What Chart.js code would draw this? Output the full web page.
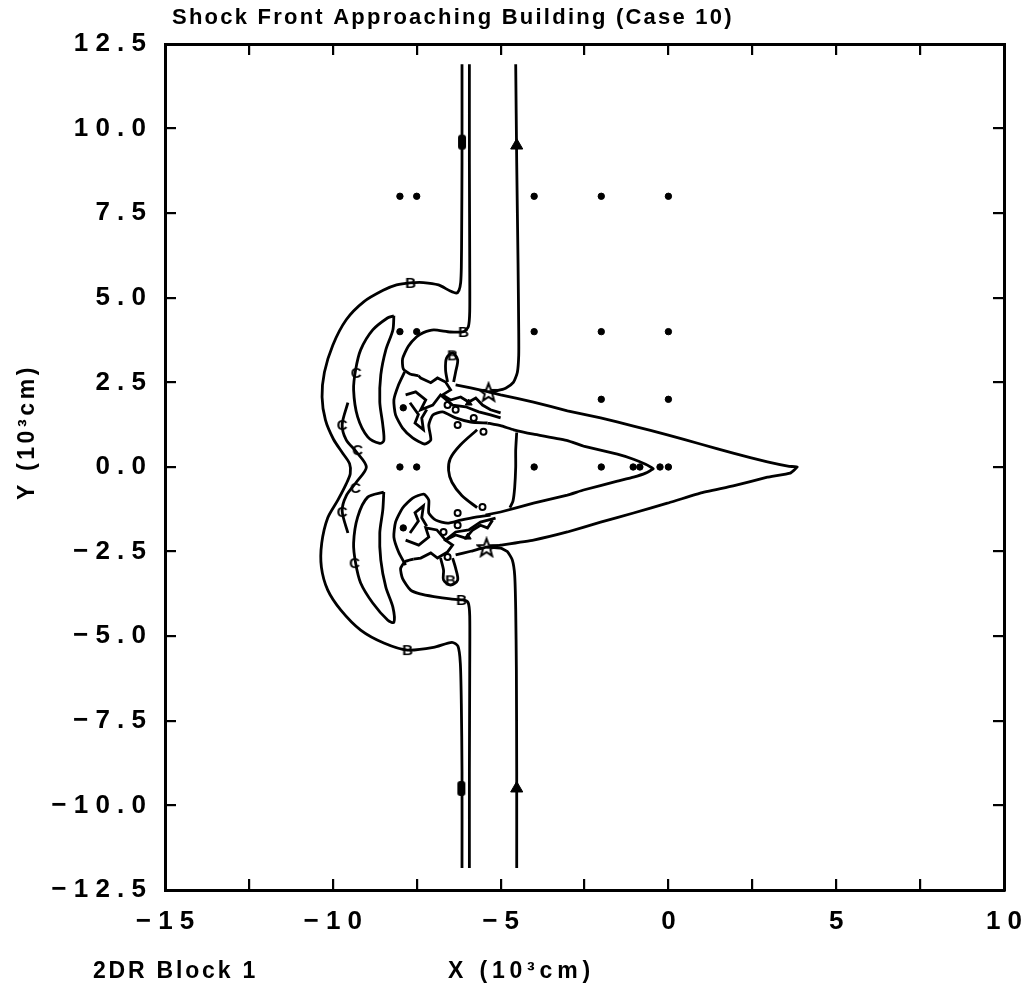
<!DOCTYPE html>
<html>
<head>
<meta charset="utf-8">
<script src="https://cdn.jsdelivr.net/npm/chart.js@4.4.1/dist/chart.umd.min.js"></script>
<style>
  html, body { margin: 0; padding: 0; background: #fff; }
  #c { display: block; }
</style>
</head>
<body>
<canvas id="c" width="1033" height="996"></canvas>
<script>
// Shock front contours, 2DR block 1 (case 10)

const xTickValues = [-15, -10, -5, 0, 5, 10];
const xTickText   = ["− 1 5", "− 1 0", "− 5", "0", "5", "1 0"];
const yTickValues = [12.5, 10, 7.5, 5, 2.5, 0, -2.5, -5, -7.5, -10, -12.5];
const yTickText   = ["1 2 . 5", "1 0 . 0", "7 . 5", "5 . 0", "2 . 5", "0 . 0",
                     "− 2 . 5", "− 5 . 0", "− 7 . 5", "− 1 0 . 0", "− 1 2 . 5"];

// contour lines, [x, y] in 10^3 cm
const outerLobeLine = [[-6.15,11.9],[-6.15,9.0],[-6.16,7.0],[-6.17,5.9],[-6.19,5.45],[-6.24,5.22],[-6.32,5.14],
  [-6.5,5.2],[-6.85,5.38],[-7.3,5.45],[-7.7,5.44],[-8.1,5.38],[-8.5,5.22],[-9.08,4.88],[-9.6,4.35],[-10.0,3.6],
  [-10.25,2.8],[-10.32,2.07],[-10.22,1.39],[-9.98,0.82],[-9.7,0.4],[-9.5,0.1],[-9.48,-0.2],[-9.6,-0.5],
  [-9.85,-0.98],[-10.15,-1.5],[-10.33,-2.25],[-10.34,-2.96],[-10.15,-3.64],[-9.76,-4.23],[-9.17,-4.82],
  [-8.48,-5.2],[-7.77,-5.41],[-7.0,-5.33],[-6.45,-5.18],[-6.27,-5.3],[-6.2,-5.8],[-6.17,-7.0],[-6.15,-9.0],[-6.15,-11.85]];
const pairRightUpper = [[-5.93,11.9],[-5.93,9.0],[-5.92,6.0],[-5.92,4.6],[-5.96,4.15],[-6.1,4.0],[-6.5,3.99],
  [-6.99,4.05],[-7.3,3.97],[-7.5,3.85],[-7.75,3.57],[-7.92,3.2],[-7.9,2.9],[-7.7,2.75],[-7.45,2.7]];
const pairRightLower = [[-5.93,-11.85],[-5.93,-9.0],[-5.92,-6.0],[-5.92,-4.4],[-5.97,-4.0],[-6.13,-3.93],
  [-6.5,-3.9],[-6.99,-3.83],[-7.4,-3.75],[-7.68,-3.64],[-7.92,-3.3],[-7.98,-3.0],[-7.85,-2.8],[-7.6,-2.72]];
const rightLineUpper = [[-4.55,11.9],[-4.52,9.0],[-4.48,6.0],[-4.46,4.0],[-4.46,3.3],[-4.5,2.8],[-4.62,2.5],
  [-4.85,2.33],[-5.1,2.26],[-5.36,2.22]];
const rightLineLower = [[-5.42,-2.37],[-5.0,-2.4],[-4.8,-2.5],[-4.65,-2.75],[-4.58,-3.2],[-4.55,-4.2],
  [-4.53,-6.0],[-4.52,-9.0],[-4.52,-11.85]];
const outerWedge = [[-6.34,2.43],[-5.89,2.34],[-5.36,2.22],[-5.0,2.13],[-4.02,1.92],[-3.01,1.66],[-2.02,1.45],
  [-1.04,1.21],[-0.03,0.95],[0.95,0.68],[1.93,0.41],[2.95,0.15],[3.6,0.02],[3.84,0.0],[3.63,-0.18],[2.95,-0.3],
  [1.93,-0.56],[0.95,-0.77],[-0.03,-1.07],[-1.04,-1.36],[-2.02,-1.63],[-3.01,-1.92],[-4.02,-2.16],[-5.0,-2.31],
  [-5.42,-2.37],[-5.89,-2.49],[-6.34,-2.6]];
const innerWedge = [[-5.39,1.3],[-5.0,1.22],[-4.61,1.1],[-4.02,0.97],[-3.01,0.78],[-2.53,0.62],[-1.52,0.38],
  [-1.04,0.23],[-0.68,0.08],[-0.45,-0.05],[-0.68,-0.18],[-1.04,-0.3],[-1.52,-0.42],[-2.53,-0.68],[-3.01,-0.83],
  [-4.02,-1.07],[-5.0,-1.33],[-5.45,-1.42]];
const innerVertical = [[-4.52,1.02],[-4.55,0.5],[-4.55,0.0],[-4.58,-0.6],[-4.63,-1.0],[-4.72,-1.2]];
const innerBowl = [[-5.7,1.1],[-6.2,0.65],[-6.5,0.25],[-6.55,-0.1],[-6.45,-0.45],[-6.15,-0.85],[-5.7,-1.2]];
const upperCrescent = [[-8.18,4.47],[-8.36,4.41],[-8.81,4.05],[-9.17,3.46],[-9.32,2.87],[-9.38,2.28],[-9.26,1.48],
  [-8.96,0.89],[-8.6,0.7],[-8.48,0.78],[-8.51,1.24],[-8.6,1.92],[-8.57,2.72],[-8.42,3.46],[-8.21,4.05],[-8.18,4.47]];
const lowerCrescent = [[-8.48,-0.74],[-8.96,-0.89],[-9.26,-1.48],[-9.38,-2.25],[-9.32,-2.84],[-9.17,-3.43],
  [-8.81,-4.02],[-8.36,-4.53],[-8.18,-4.59],[-8.21,-4.14],[-8.42,-3.55],[-8.57,-2.75],[-8.6,-1.95],[-8.51,-1.27],[-8.48,-0.74]];
const middleLine = [[-9.55,1.9],[-9.72,1.25],[-9.6,0.8],[-9.3,0.45],[-9.0,0.0],[-9.3,-0.45],[-9.6,-0.85],
  [-9.72,-1.3],[-9.55,-1.95]];

// turbulent region behind the front
const upperPouch = [[-7.86,2.81],[-8.04,2.43],[-8.18,1.98],[-8.13,1.54],[-7.92,1.15],[-7.62,0.86],[-7.26,0.68],
  [-7.08,0.8],[-7.14,1.24],[-7.02,1.54],[-6.73,1.63],[-6.34,1.45],[-5.89,1.33],[-5.39,1.3]];
const upperJag1 = [[-7.45,2.7],[-7.38,2.63],[-7.08,2.49],[-6.88,2.63],[-6.64,2.51],[-6.49,2.28],[-6.73,2.13],
  [-6.49,1.98],[-6.19,2.07],[-5.95,1.92],[-5.74,2.04],[-5.54,1.83],[-5.3,1.69],[-5.0,1.6]];
const upperJag2 = [[-7.83,2.13],[-7.53,2.22],[-7.23,1.98],[-7.38,1.69],[-7.02,1.83],[-6.79,2.13],[-6.43,1.83],
  [-6.04,1.78],[-5.65,1.63],[-5.3,1.54],[-5.0,1.45]];
const upperJag3 = [[-7.7,1.9],[-7.45,1.55],[-7.55,1.3],[-7.3,1.1],[-7.35,1.45],[-7.2,1.7]];
const upperStem = [[-6.58,2.51],[-6.64,2.87],[-6.61,3.22],[-6.43,3.37],[-6.28,3.17],[-6.34,2.81],[-6.4,2.51]];
const lowerPouch = [[-7.83,-2.9],[-8.04,-2.51],[-8.18,-2.07],[-8.13,-1.63],[-7.92,-1.21],[-7.62,-0.92],[-7.29,-0.8],
  [-7.14,-0.98],[-7.14,-1.36],[-6.93,-1.57],[-6.58,-1.66],[-6.19,-1.57],[-5.74,-1.48],[-5.3,-1.42]];
const lowerJag1 = [[-7.6,-2.72],[-7.38,-2.69],[-7.08,-2.54],[-6.88,-2.69],[-6.58,-2.51],[-6.43,-2.31],[-6.64,-2.16],
  [-6.34,-2.01],[-6.04,-2.1],[-5.83,-1.86],[-5.6,-1.72],[-5.39,-1.8],[-5.24,-1.57]];
const lowerJag2 = [[-7.83,-2.16],[-7.44,-2.31],[-7.14,-2.07],[-7.23,-1.8],[-6.9,-1.86],[-6.64,-2.16],[-6.34,-1.92],
  [-5.95,-1.86],[-5.6,-1.63],[-5.15,-1.51]];
const lowerJag3 = [[-7.7,-1.95],[-7.45,-1.6],[-7.55,-1.35],[-7.3,-1.15],[-7.35,-1.5],[-7.2,-1.75]];
const lowerStem = [[-6.79,-2.69],[-6.7,-3.05],[-6.7,-3.34],[-6.49,-3.49],[-6.28,-3.34],[-6.34,-2.99],[-6.43,-2.69]];

// markers
const gaugeDots = [[-8,8],[-7.5,8],[-4,8],[-2,8],[0,8],
  [-8,4],[-7.5,4],[-4,4],[-2,4],[0,4],
  [-2,2],[0,2],[-7.9,1.75],[-7.9,-1.8],
  [-8,0],[-7.5,0],[-4,0],[-2,0],[-1.05,0],[-0.85,0],[-0.25,0],[0,0]];
const labelB = [[-7.68,5.44],[-6.1,3.99],[-6.43,3.3],[-7.77,-5.41],[-6.16,-3.93],[-6.49,-3.35]];
const labelC = [[-9.3,2.78],[-9.72,1.24],[-9.26,0.5],[-9.32,-0.62],[-9.72,-1.33],[-9.35,-2.84]];
const barMarks = [[-6.15,9.6],[-6.17,-9.5]];
const arrowMarks = [[-4.52,9.5],[-4.52,-9.5]];
const starMarks = [[-5.36,2.22],[-5.42,-2.37]];
const smallTriangles = [[-5.95,1.89],[-5.98,-2.07]];
const smallCircles = [[-6.34,1.69],[-6.28,1.24],[-5.51,1.04],[-5.8,1.45],[-6.58,1.83],
  [-6.28,-1.36],[-6.7,-1.92],[-5.54,-1.18],[-6.58,-2.66],[-6.28,-1.72]];

const INK = "#000";

function pts(arr) { return arr.map(p => ({ x: p[0], y: p[1] })); }

function makeGlyph(w, h, paint) {
  const c = document.createElement("canvas");
  c.width = w; c.height = h;
  const g = c.getContext("2d");
  g.fillStyle = INK; g.strokeStyle = INK;
  paint(g, w, h);
  return c;
}

const glyphB = makeGlyph(16, 18, (g, w, h) => {
  g.font = 'bold 15px "Liberation Sans"';
  g.textAlign = "center"; g.textBaseline = "middle";
  g.fillText("B", w / 2, h / 2 + 1);
});
const glyphC = makeGlyph(16, 18, (g, w, h) => {
  g.font = 'bold 15px "Liberation Sans"';
  g.textAlign = "center"; g.textBaseline = "middle";
  g.fillText("C", w / 2, h / 2 + 1);
});
const glyphBar = makeGlyph(10, 17, (g, w, h) => {
  g.beginPath();
  g.roundRect(1, 1, w - 2, h - 2, 3);
  g.fill();
});
const glyphStar = makeGlyph(22, 22, (g, w, h) => {
  g.lineWidth = 2;
  g.beginPath();
  for (let i = 0; i < 10; i++) {
    const r = i % 2 ? 4 : 9.5;
    const a = -Math.PI / 2 + i * Math.PI / 5;
    const px = w / 2 + r * Math.cos(a), py = h / 2 + 1 + r * Math.sin(a);
    i ? g.lineTo(px, py) : g.moveTo(px, py);
  }
  g.closePath();
  g.stroke();
});

function lineSet(arr, tension) {
  return {
    data: pts(arr),
    showLine: true,
    borderColor: INK,
    borderWidth: 2.8,
    pointRadius: 0,
    tension: tension,
    fill: false
  };
}

function markSet(arr, extra) {
  return Object.assign({
    data: pts(arr),
    showLine: false,
    pointRadius: 5,
    pointBackgroundColor: INK,
    pointBorderColor: INK,
    pointBorderWidth: 1
  }, extra);
}

const datasets = [
  lineSet(outerLobeLine, 0.25),
  lineSet(pairRightUpper, 0.2),
  lineSet(pairRightLower, 0.2),
  lineSet(rightLineUpper, 0.2),
  lineSet(rightLineLower, 0.2),
  lineSet(outerWedge, 0.1),
  lineSet(innerWedge, 0.1),
  lineSet(innerVertical, 0.2),
  lineSet(innerBowl, 0.3),
  lineSet(upperCrescent, 0.3),
  lineSet(lowerCrescent, 0.3),
  lineSet(middleLine, 0.3),
  lineSet(upperPouch, 0.2),
  lineSet(upperJag1, 0),
  lineSet(upperJag2, 0),
  lineSet(upperJag3, 0),
  lineSet(upperStem, 0.3),
  lineSet(lowerPouch, 0.2),
  lineSet(lowerJag1, 0),
  lineSet(lowerJag2, 0),
  lineSet(lowerJag3, 0),
  lineSet(lowerStem, 0.3),
  markSet(gaugeDots, { pointRadius: 3.2 }),
  markSet(labelB, { pointStyle: glyphB }),
  markSet(labelC, { pointStyle: glyphC }),
  markSet(barMarks, { pointStyle: glyphBar }),
  markSet(arrowMarks, { pointStyle: "triangle", pointRadius: 7 }),
  markSet(starMarks, { pointStyle: glyphStar }),
  markSet(smallTriangles, { pointStyle: "triangle", pointRadius: 4 }),
  markSet(smallCircles, { pointRadius: 3, pointBackgroundColor: "#fff", pointBorderWidth: 2 })
];

function pickLabel(values, texts) {
  return v => {
    const i = values.findIndex(t => Math.abs(t - v) < 1e-6);
    return i >= 0 ? texts[i] : "";
  };
}

const tickFont = { family: "Liberation Sans", size: 26, weight: "bold" };
const gridTicks = { drawOnChartArea: false, drawTicks: true, tickLength: -11, color: INK, lineWidth: 2.2 };
const frame = { display: true, color: INK, width: 3 };

// keep the tick labels from pushing the plot box inwards
function fixBox(s, w, h) {
  if (w !== null) s.width = w;
  if (h !== null) s.height = h;
  s.paddingLeft = 0; s.paddingRight = 0; s.paddingTop = 0; s.paddingBottom = 0;
}

// free text: title, block name, axis titles
function spacedText(ctx, text, x, y, width, font) {
  ctx.font = font;
  const w = ctx.measureText(text).width;
  const n = [...text].length;
  if ("letterSpacing" in ctx) ctx.letterSpacing = ((width - w) / n).toFixed(2) + "px";
  ctx.fillText(text, x, y);
  if ("letterSpacing" in ctx) ctx.letterSpacing = "0px";
}

const textPlugin = {
  id: "plotText",
  afterDraw(chart) {
    const ctx = chart.ctx;
    ctx.save();
    ctx.fillStyle = INK;
    ctx.textAlign = "left";
    ctx.textBaseline = "middle";
    spacedText(ctx, "Shock Front Approaching Building (Case 10)", 172, 18, 562, 'bold 22px "Liberation Sans"');
    spacedText(ctx, "2DR Block 1", 93, 972, 165, 'bold 23px "Liberation Sans"');
    spacedText(ctx, "X (10³cm)", 448, 972, 147, 'bold 23px "Liberation Sans"');
    ctx.translate(28, 432);
    ctx.rotate(-Math.PI / 2);
    spacedText(ctx, "Y (10³cm)", -68, 0, 136, 'bold 23px "Liberation Sans"');
    ctx.restore();
  }
};

new Chart(document.getElementById("c"), {
  type: "scatter",
  data: { datasets },
  plugins: [textPlugin],
  options: {
    responsive: false,
    animation: false,
    devicePixelRatio: 1,
    layout: { padding: { top: 44, right: 29, left: 0, bottom: 0 } },
    plugins: { legend: { display: false }, tooltip: { enabled: false }, title: { display: false } },
    scales: {
      x: {
        type: "linear", position: "bottom", min: -15, max: 10,
        grid: gridTicks, border: frame,
        afterFit: s => fixBox(s, null, 106),
        ticks: { stepSize: 2.5, autoSkip: false, maxRotation: 0, padding: 27, color: INK,
                 font: tickFont, callback: pickLabel(xTickValues, xTickText) }
      },
      y: {
        type: "linear", position: "left", min: -12.5, max: 12.5,
        grid: gridTicks, border: frame,
        afterFit: s => fixBox(s, 165, null),
        ticks: { stepSize: 2.5, autoSkip: false, padding: 30, color: INK,
                 font: tickFont, callback: pickLabel(yTickValues, yTickText) }
      },
      xTop: {
        type: "linear", position: "top", min: -15, max: 10,
        grid: gridTicks, border: frame,
        afterFit: s => fixBox(s, null, 0),
        ticks: { stepSize: 2.5, autoSkip: false, display: false }
      },
      yRight: {
        type: "linear", position: "right", min: -12.5, max: 12.5,
        grid: gridTicks, border: frame,
        afterFit: s => fixBox(s, 0, null),
        ticks: { stepSize: 2.5, autoSkip: false, display: false }
      }
    }
  }
});
</script>
</body>
</html>
